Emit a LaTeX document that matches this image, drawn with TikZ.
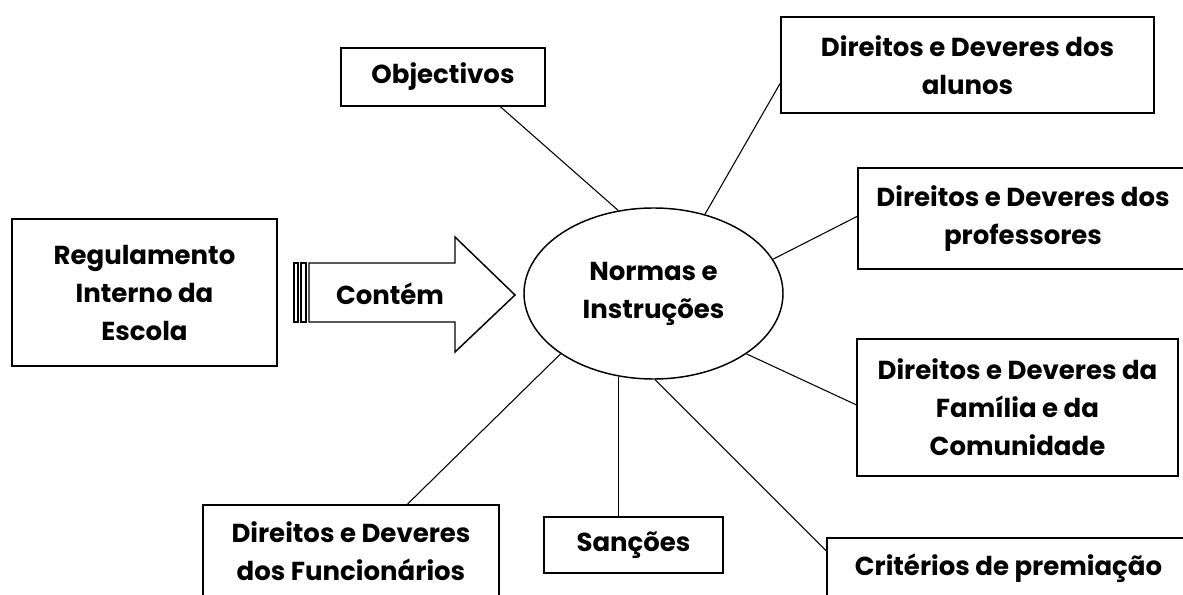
\documentclass[tikz,border=0pt]{standalone}
\usepackage{fontspec}
\setmainfont{Poppins}
\usetikzlibrary{calc, shapes.geometric}
\tikzset{>=latex}
\tikzset{caixa/.style={draw, line width=1.5pt, align=center, inner sep=0pt, font=\fontsize{19.5}{28.5}\selectfont\bfseries},
         liga/.style={line width=0.8pt}}

\begin{document}
\begin{tikzpicture}[x=0.75pt, y=-0.75pt]
\useasboundingbox (0,0) rectangle (1183,595);
\clip (0,0) rectangle (1183,595);
\node[caixa, minimum width=198.75pt, minimum height=110.25pt] (regul) at (144.5,292.5) {Regulamento\\ Interno da\\ Escola};
\node[caixa, minimum width=153pt, minimum height=43.5pt] (objt) at (443,77) {Objectivos};
\node[caixa, minimum width=279.75pt, minimum height=72pt] (alunos) at (967.5,65) {Direitos e Deveres dos\\ alunos};
\node[caixa, minimum width=247.5pt, minimum height=75.75pt] (profs) at (1023,218.5) {Direitos e Deveres dos\\ professores};
\node[caixa, minimum width=240.75pt, minimum height=102.75pt] (familia) at (1017.5,407.5) {Direitos e Deveres da\\ Família e da\\ Comunidade};
\node[caixa, minimum width=272.25pt, minimum height=45pt] (crit) at (1008.5,568) {Critérios de premiação};
\node[caixa, minimum width=134.25pt, minimum height=42pt] (sanc) at (633.5,545) {Sanções};
\node[caixa, minimum width=222pt, minimum height=69.75pt] (func) at (351,551.5) {Direitos e Deveres\\ dos Funcionários};
\node[caixa, ellipse, line width=1.1pt, minimum width=194.25pt, minimum height=128.25pt] (norma) at (653.5,293.5) {Normas e\\ Instruções};

\draw[line width=1.1pt] (294,263) rectangle (298,322);
\draw[line width=1.1pt] (301,263) rectangle (306,322);
\draw[line width=1.1pt] (309,263) -- (455,263) -- (455,237) -- (515,295) -- (455,352) -- (455,322) -- (309,322) -- cycle;
\node[font=\fontsize{19.5}{28.5}\selectfont\bfseries] (contem) at (390,294) {Contém};

\draw[liga] (norma.113) -- ($(objt.south west)!0.78!(objt.south east)$);
\draw[liga] (norma.57) -- ($(alunos.north west)!0.69!(alunos.south west)$);
\draw[liga] (norma.16) -- ($(profs.north west)!0.48!(profs.south west)$);
\draw[liga] (norma.-33) -- ($(familia.north west)!0.48!(familia.south west)$);
\draw[liga] (norma.-89) -- ($(crit.north west)!0.22!(crit.south west)$);
\draw[liga] (norma.-113) -- (norma.-113 |- sanc.north);
\draw[liga] (norma.-147) -- ($(func.north west)!0.69!(func.north east)$);
\end{tikzpicture}
\end{document}
